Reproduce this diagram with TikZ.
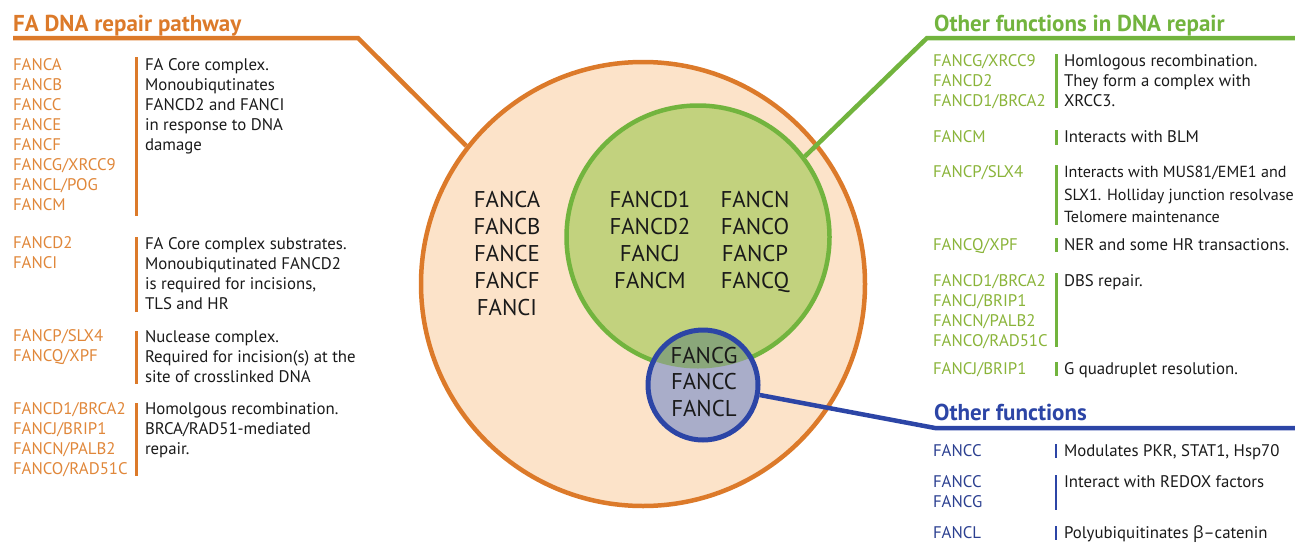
\documentclass[tikz,border=0pt]{standalone}
\usepackage{fontspec}
\setmainfont{PT Sans}
\newfontfamily\grk{Open Sans}
\definecolor{fanOr}{HTML}{DC7A2A}
\definecolor{fanOrT}{HTML}{E0873A}
\definecolor{fanGr}{HTML}{72B43E}
\definecolor{fanGrT}{HTML}{8AB43A}
\definecolor{fanBl}{HTML}{2C45A6}
\definecolor{fanBlT}{HTML}{2B3F90}
\definecolor{fillOr}{HTML}{FCE3C9}
\definecolor{fillGr}{HTML}{C2D27E}
\definecolor{fillBl}{HTML}{A9ADC9}
\definecolor{fillOv}{HTML}{8AA77A}
\definecolor{txt}{HTML}{1A1A1A}
\tikzset{
  lbl/.style={anchor=base west, inner sep=0pt, outer sep=0pt, align=left, font=\fontsize{16.8}{20.1}\selectfont},
  olbl/.style={lbl, text=fanOrT},
  glbl/.style={lbl, text=fanGrT},
  blbl/.style={lbl, text=fanBlT},
  desc/.style={lbl, text=txt},
  hdr/.style={anchor=base west, inner sep=0pt, font=\fontsize{23}{27}\selectfont\bfseries},
  ctr/.style={anchor=base, inner sep=0pt, align=center, text=txt, font=\fontsize{22.8}{27}\selectfont},
  obar/.style={draw=fanOr, line width=3pt},
  gbar/.style={draw=fanGr, line width=3pt},
  bbar/.style={draw=fanBl, line width=2.5pt},
  ring/.style={circle, inner sep=0pt, line width=4.5pt},
  conn/.style={line width=4.5pt, line join=miter},
}
\begin{document}
\begin{tikzpicture}[x=1pt,y=-1pt]
\useasboundingbox (0,0) rectangle (1295,544);
% circles
\node[ring, draw=fanOr, fill=fillOr, minimum size=444pt] (orange) at (643,284) {};
\node[ring, draw=fanGr, fill=fillGr, minimum size=263pt] (green) at (698,237) {};
\node[circle, inner sep=0pt, fill=fillBl, minimum size=110pt] (blue) at (703,385) {};
\begin{scope}
  \clip (698,237) circle (131.5pt);
  \fill[fillOv] (703,385) circle (55pt);
\end{scope}
\node[ring, draw=fanBl, line width=5pt, minimum size=110pt] (blueRing) at (703,385) {};
% connectors
\coordinate (oL) at (13,38);
\coordinate (oB) at (358,38);
\draw[conn, draw=fanOr] (oL) -- (oB) -- (orange.142);
\coordinate (gR) at (1295,38);
\coordinate (gB) at (927,38);
\draw[conn, draw=fanGr] (gR) -- (gB) -- (green.37);
\coordinate (bR) at (1295,428);
\coordinate (bB) at (935,428);
\draw[conn, draw=fanBl] (bR) -- (bB) -- (blueRing.-10);
% headers
\node[hdr, text=fanOr] (h1) at (13,31) {FA DNA repair pathway};
\node[hdr, text=fanGr] (h2) at (934,31) {Other functions in DNA repair};
\node[hdr, text=fanBl] (h3) at (934,420) {Other functions};
% center texts (anchored at last line baseline)
\node[ctr] (c1) at (507,315) {FANCA\\FANCB\\FANCE\\FANCF\\FANCI};
\node[ctr] (c2) at (650,288) {FANCD1\\FANCD2\\FANCJ\\FANCM};
\node[ctr] (c3) at (755,288) {FANCN\\FANCO\\FANCP\\FANCQ};
\node[ctr, font=\fontsize{22.8}{26.5}\selectfont] (c4) at (704,416) {FANCG\\FANCC\\FANCL};
% left column (anchored at last line baseline)
\node[olbl] (l1) at (13,210.8) {FANCA\\FANCB\\FANCC\\FANCE\\FANCF\\FANCG/XRCC9\\FANCL/POG\\FANCM};
\node[desc] (d1) at (145,150.8) {FA Core complex.\\Monoubiqutinates\\FANCD2 and FANCI\\in response to DNA\\damage};
\draw[obar] (136,57) -- (136,216);
\node[olbl] (l2) at (13,268.8) {FANCD2\\FANCI};
\node[desc] (d2) at (145,309.8) {FA Core complex substrates.\\Monoubiqutinated FANCD2\\is required for incisions,\\TLS and HR};
\draw[obar] (136,237) -- (136,312);
\node[olbl] (l3) at (13,361.8) {FANCP/SLX4\\FANCQ/XPF};
\node[desc] (d3) at (145,382.8) {Nuclease complex.\\Required for incision(s) at the\\site of crosslinked DNA};
\draw[obar] (136,331) -- (136,384);
\node[olbl] (l4) at (13,474.8) {FANCD1/BRCA2\\FANCJ/BRIP1\\FANCN/PALB2\\FANCO/RAD51C};
\node[desc] (d4) at (145,454.8) {Homolgous recombination.\\BRCA/RAD51-mediated\\repair.};
\draw[obar] (136,403) -- (136,476);
% right column
\node[glbl] (r1) at (933,106.8) {FANCG/XRCC9\\FANCD2\\FANCD1/BRCA2};
\node[desc] (e1) at (1064,106.8) {Homlogous recombination.\\They form a complex with\\XRCC3.};
\draw[gbar] (1056,54) -- (1056,108);
\node[glbl] (r2) at (933,142.8) {FANCM};
\node[desc] (e2) at (1064,142.8) {Interacts with BLM};
\draw[gbar] (1056,130) -- (1056,145);
\node[glbl] (r3) at (933,177.8) {FANCP/SLX4};
\node[desc, font=\fontsize{16.1}{20.1}\selectfont] (e3) at (1064,222.8) {Interacts with MUS81/EME1 and\\[2.4pt]SLX1. Holliday junction resolvase\\[2.4pt]Telomere maintenance};
\draw[gbar] (1056,165) -- (1056,225);
\node[glbl] (r4) at (933,250.8) {FANCQ/XPF};
\node[desc] (e4) at (1064,250.8) {NER and some HR transactions.};
\draw[gbar] (1056,238) -- (1056,252);
\node[glbl] (r5) at (933,346.8) {FANCD1/BRCA2\\FANCJ/BRIP1\\FANCN/PALB2\\FANCO/RAD51C};
\node[desc] (e5) at (1064,286.8) {DBS repair.};
\draw[gbar] (1056,273) -- (1056,347);
\node[glbl] (r6) at (933,374.8) {FANCJ/BRIP1};
\node[desc] (e6) at (1064,374.8) {G quadruplet resolution.};
\draw[gbar] (1056,362) -- (1056,376);
\node[blbl] (r7) at (933,456.8) {FANCC};
\node[desc] (e7) at (1064,456.8) {Modulates PKR, STAT1, Hsp70};
\draw[bbar] (1056,444) -- (1056,458);
\node[blbl] (r8) at (933,507.8) {FANCC\\FANCG};
\node[desc] (e8) at (1064,487.8) {Interact with REDOX factors};
\draw[bbar] (1056,475) -- (1056,510);
\node[blbl] (r9) at (933,538.8) {FANCL};
\node[desc] (e9) at (1064,538.8) {Polyubiquitinates {\grk β}–catenin};
\draw[bbar] (1056,526) -- (1056,540);
\end{tikzpicture}
\end{document}
